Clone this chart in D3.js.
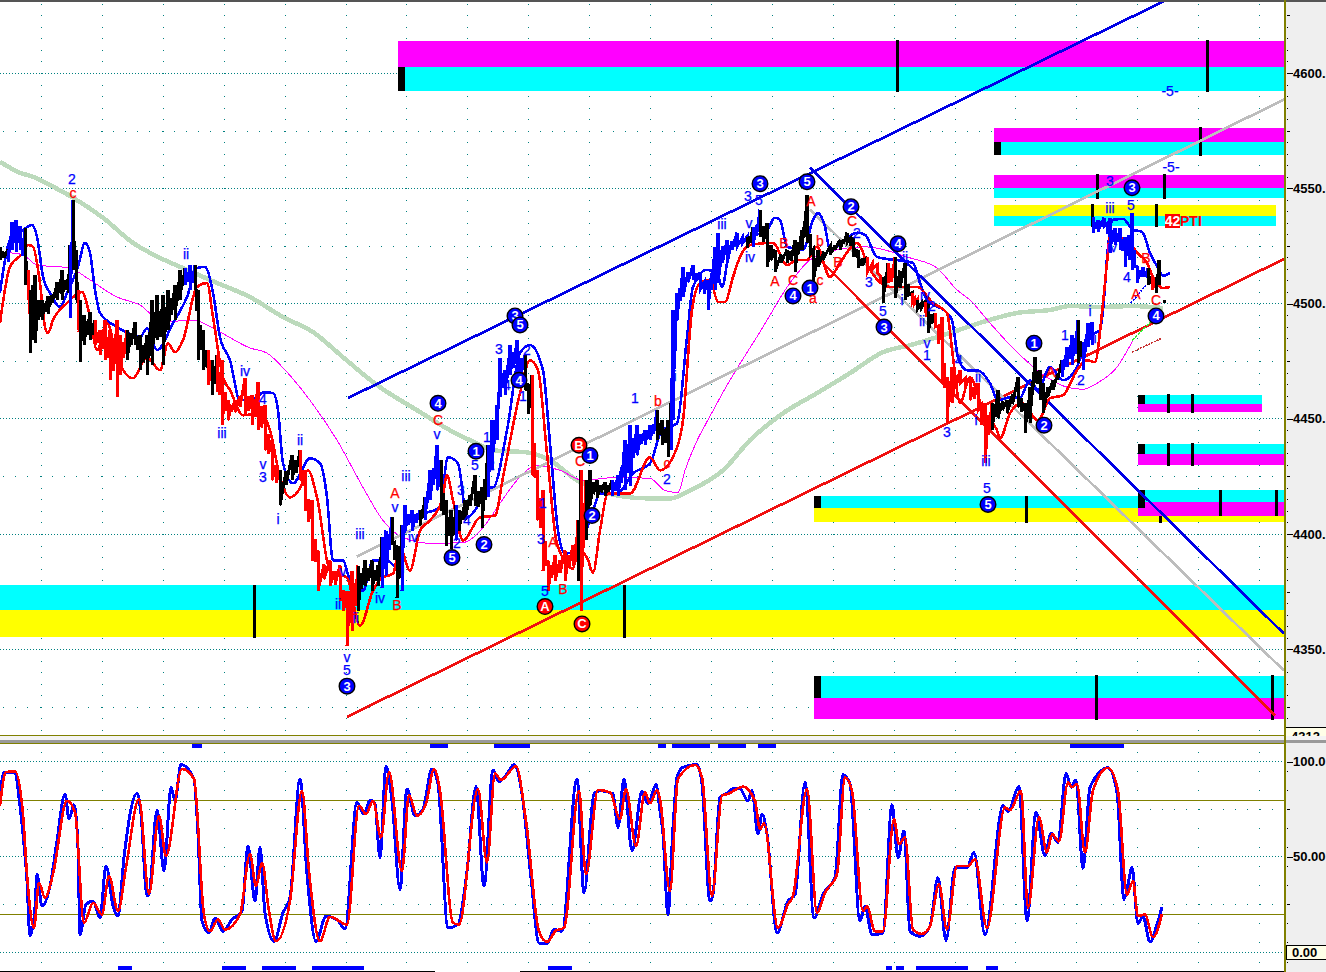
<!DOCTYPE html>
<html><head><meta charset="utf-8">
<script src="https://cdn.jsdelivr.net/npm/d3@7/dist/d3.min.js"></script>
<style>html,body{margin:0;padding:0;background:#fff;overflow:hidden}svg{display:block}text{font-family:"Liberation Sans",Arial,sans-serif}</style>
</head><body><svg id="c" width="1326" height="972"></svg>
<script>
// price bars: [time, high, low, colour code]
const priceBars=[[0,4524.6,4518.9,'k'],[8,4523.3,4518,'k'],[12,4535.4,4523.3,'b'],[16,4536.3,4522.4,'b'],[20,4533.7,4523.3,'b'],[25,4532.8,4508,'b'],[28,4514.6,4501.5,'k'],[30,4505.9,4478.5,'r'],[33,4508,4484.1,'k'],[35,4512.4,4482.8,'k'],[42,4501.5,4492.8,'k'],[48,4503.3,4495.4,'k'],[52,4503.7,4500.2,'k'],[57,4509.3,4501.5,'k'],[62,4514.6,4501.5,'k'],[67,4510.2,4505.9,'k'],[70,4525.4,4493.7,'k'],[73,4545,4514.6,'b'],[76,4523.3,4501.5,'k'],[78,4505.9,4488.5,'k'],[80,4501.5,4474.6,'r'],[84,4495,4482,'k'],[90,4496.3,4484.1,'k'],[95,4492.8,4482,'k'],[100,4488.5,4477.6,'r'],[105,4492.8,4475.4,'r'],[110,4488.5,4466.7,'r'],[117,4492.8,4459.3,'r'],[120,4486.3,4468.9,'r'],[127,4488.5,4475.4,'r'],[135,4492,4482,'k'],[140,4486.3,4471,'k'],[147,4486.3,4468.9,'k'],[152,4501.5,4473.3,'k'],[157,4503.7,4484.1,'k'],[163,4503.7,4473.3,'k'],[168,4505.9,4488.5,'k'],[175,4508,4492.8,'k'],[180,4514.6,4501.5,'k'],[185,4515.4,4508,'k'],[190,4516.7,4505.9,'b'],[195,4516.7,4506.7,'b'],[198,4505.9,4475.4,'k'],[203,4488.5,4471,'k'],[208,4479.8,4464.6,'k'],[212,4475.4,4460.2,'r'],[217,4477.6,4461.5,'k'],[222,4475.4,4447.2,'r'],[228,4458,4449.3,'r'],[235,4458,4452.8,'r'],[245,4467.6,4451.5,'r'],[252,4460.2,4447.2,'r'],[258,4465.9,4445,'r'],[265,4455.9,4436.3,'r'],[272,4440.7,4423.3,'r'],[280,4427.6,4412.4,'r'],[292,4434.1,4423.3,'k'],[300,4436.3,4423.3,'k'],[305,4427.6,4410.2,'r'],[312,4414.6,4388.5,'r'],[318,4392.8,4375.4,'r'],[330,4388.5,4377.6,'r'],[340,4386.3,4371.1,'r'],[347,4375.4,4351.5,'r'],[352,4384.1,4358,'r'],[358,4386.3,4366.7,'r'],[365,4388.5,4377.6,'k'],[372,4388.5,4375.4,'k'],[378,4386.3,4377.6,'k'],[382,4398.5,4376.7,'k'],[386,4401.5,4382,'b'],[392,4407.2,4395.9,'b'],[397,4395,4372.4,'k'],[402,4403.7,4375.4,'k'],[405,4412.4,4401.5,'b'],[412,4410.2,4401.5,'b'],[420,4410.2,4403.7,'b'],[425,4415.9,4405.9,'k'],[430,4427.6,4414.6,'b'],[437,4438.5,4418.9,'b'],[441,4432,4410.2,'b'],[446,4414.6,4395,'k'],[451,4410.2,4393.7,'k'],[456,4412.4,4397.2,'k'],[459,4410.2,4401.5,'b'],[465,4414.6,4405.9,'k'],[475,4425.4,4412.4,'k'],[482,4420.2,4402.8,'k'],[488,4438.5,4415.9,'k'],[492,4449.3,4427.6,'b'],[497,4455.9,4440.7,'b'],[500,4476.3,4459.3,'b'],[505,4471,4460.2,'b'],[510,4482,4468.9,'b'],[517,4484.1,4466.7,'b'],[525,4477.6,4462.4,'b'],[532,4468.9,4425.4,'k'],[537,4427.6,4405.9,'r'],[543,4418.9,4384.1,'r'],[548,4388.5,4375.4,'r'],[555,4390.7,4379.8,'r'],[565,4392.8,4379.8,'r'],[573,4395,4386.3,'r'],[578,4405.9,4379.8,'r'],[581,4427.6,4366.7,'k'],[586,4423.3,4397.2,'r'],[590,4427.6,4412.4,'k'],[597,4423.3,4415.9,'k'],[605,4422.4,4416.7,'k'],[612,4423.3,4416.7,'k'],[618,4425.4,4416.7,'b'],[625,4440.7,4418.9,'b'],[630,4447.2,4421,'b'],[637,4447.2,4434.1,'b'],[645,4445,4438.5,'b'],[650,4447.2,4440.7,'b'],[657,4453.7,4440.7,'b'],[662,4449.3,4438.5,'k'],[668,4449.3,4433.3,'k'],[671,4456.8,4436.3,'k'],[673,4497.2,4449.3,'b'],[677,4504.6,4492.8,'b'],[683,4515.9,4502.8,'b'],[693,4516.7,4510.2,'b'],[700,4513.3,4505.9,'b'],[708,4510.2,4497.2,'b'],[715,4524.6,4505.9,'b'],[718,4530.7,4508.9,'b'],[727,4527.6,4517.6,'b'],[737,4530.7,4524.6,'b'],[747,4528.9,4524.1,'b'],[753,4533.3,4524.6,'k'],[760,4540.7,4528.9,'b'],[767,4535,4515.9,'k'],[775,4523.3,4513.7,'k'],[787,4523.3,4517.6,'k'],[795,4527.6,4513.7,'k'],[802,4532,4523.3,'k'],[807,4547.2,4526.3,'k'],[813,4523.3,4505.9,'k'],[818,4523.3,4515.9,'k'],[830,4524.6,4521.1,'k'],[840,4527.6,4523.3,'k'],[847,4530.7,4526.3,'k'],[853,4528.9,4520.2,'k'],[858,4523.3,4515.4,'k'],[867,4520.2,4513.3,'k'],[877,4516.7,4513.3,'r'],[883,4511.5,4500.2,'r'],[888,4517.6,4508.9,'k'],[895,4520.2,4502.4,'r'],[905,4517.6,4501.5,'k'],[912,4504.6,4500.2,'k'],[917,4501.5,4497.2,'r'],[925,4500.7,4495.9,'k'],[928,4500.2,4487.2,'r'],[935,4495.9,4489.8,'k'],[942,4494.1,4465.4,'r'],[947,4468,4448,'r'],[952,4472.4,4456.8,'r'],[960,4471,4465.4,'r'],[970,4468,4458,'r'],[978,4465.4,4453.7,'r'],[985,4456.8,4430.7,'r'],[992,4456.8,4445,'r'],[998,4462.4,4450.2,'k'],[1007,4458,4452.4,'k'],[1018,4468,4455,'k'],[1025,4456.8,4443.7,'k'],[1030,4463.7,4448,'k'],[1035,4476.7,4465.4,'k'],[1040,4471,4458,'k'],[1043,4465.4,4452.4,'k'],[1053,4466.7,4462.4,'k'],[1062,4475.4,4468,'k'],[1067,4481.1,4472.4,'b'],[1072,4486.3,4473.3,'b'],[1078,4492.8,4474.1,'b'],[1083,4483.3,4471,'k'],[1088,4491.5,4481.1,'b'],[1092,4492,4482,'b'],[1093,4537.6,4530.7,'B'],[1098,4536.3,4531.1,'B'],[1104,4537.2,4533.3,'B'],[1110,4537.2,4522,'B'],[1115,4532.8,4525.4,'B'],[1120,4532.8,4523.3,'B'],[1125,4528.9,4515.9,'B'],[1129,4529.8,4518.9,'B'],[1132,4539.3,4514.6,'B'],[1137,4515.9,4508.9,'B'],[1143,4515.9,4511.5,'B'],[1148,4515.4,4508,'B'],[1152,4511.5,4505.9,'k'],[1156,4511.5,4504.6,'r'],[1159,4519,4508,'k']];

const emaSlowT=[0,20,33,53,73,103,133,160,187,217,250,283,313,343,377,417,450,477,493,527,550,577,617,650,670,690,723,750,783,817,850,883,910,950,983,1017,1050,1070,1100,1133,1163];
const emaSlow=[4561.5,4556.7,4555,4550.7,4545.9,4537.2,4526.3,4519.8,4514.6,4508.9,4502.8,4494.1,4487.6,4476.7,4464.6,4453.7,4445,4439.3,4436.3,4435.4,4432,4423.3,4416.7,4415.4,4415.4,4418.9,4427.6,4440.7,4452.4,4461.1,4469.8,4478.9,4481.9,4487.2,4492,4495.9,4497.2,4498.9,4498.5,4498.9,4498];

const maMidT=[10,23,37,70,87,117,140,163,193,220,250,267,287,310,337,363,383,403,433,463,483,500,517,537,560,583,617,650,665,678,685,717,763,790,810,837,863,910,937,957,970,990,1017,1047,1067,1083,1097,1117,1133];
const maMid=[4522,4521.1,4516.7,4515.4,4511.1,4502.8,4499.3,4492,4492.8,4487.6,4480.7,4478.5,4470.2,4458,4440.7,4420.2,4405.9,4398.5,4395.9,4396.3,4402.8,4413.3,4423.3,4429.8,4427.6,4423.3,4424.6,4424.1,4418.9,4418,4427.6,4456.7,4489.8,4508.9,4518.9,4523.3,4524.6,4519.8,4515.4,4505.9,4501.5,4491.5,4478.9,4468,4463.7,4462.8,4465.4,4472.4,4484.1];

const maBlueT=[0,10,20,32,37,43,50,60,67,78,85,90,95,100,117,128,140,147,157,173,187,197,205,213,220,230,240,257,263,273,278,283,293,310,320,327,333,343,350,363,373,387,397,407,423,440,448,458,467,477,487,493,507,520,530,543,550,558,565,577,593,600,617,633,650,662,677,687,693,707,717,722,730,750,767,775,780,787,803,813,818,825,830,857,865,877,913,920,927,947,952,958,967,977,990,998,1010,1020,1030,1038,1050,1063,1077,1087,1100,1103,1108,1113,1123,1133,1142,1150,1158,1163,1170];
const maBlue=[4504.6,4527.6,4530.7,4534.1,4528.9,4511.5,4504.6,4498.5,4504.6,4515.9,4526.3,4522,4505.9,4495.9,4489.8,4487.2,4485.4,4489.3,4479.8,4491.5,4502.8,4515.4,4515.9,4504.6,4485.4,4475.4,4458,4459.3,4461.5,4461.1,4453.7,4430.7,4422,4432.8,4430.7,4415.9,4388.5,4388.5,4379.8,4375.4,4388.5,4388.5,4385.4,4407.2,4408.9,4411.5,4433.3,4430.7,4407.2,4411.5,4420.2,4420.2,4445,4478.5,4482,4471,4439.3,4401.5,4391.5,4392.8,4410.2,4417.6,4417.6,4426.3,4430.7,4445,4448,4485.4,4507.2,4514.6,4513.3,4507.2,4523.3,4528.9,4532,4537.2,4536.3,4524.6,4523.3,4536.3,4539.3,4533.3,4523.3,4530.7,4529.8,4520.2,4517.6,4508.9,4501.5,4495.9,4492.8,4476.7,4471,4471,4465.4,4458,4459.3,4459.3,4466.7,4462.4,4472.4,4466.7,4472.4,4485.4,4488.5,4497.2,4524.6,4536.3,4536.7,4532,4531.1,4522,4515.4,4512,4513.3];

const maRedT=[0,10,23,28,33,40,45,48,53,67,82,90,97,107,117,133,147,160,168,175,183,197,207,213,223,230,243,260,270,280,290,300,308,317,330,347,360,373,382,393,400,410,420,430,442,447,453,463,480,495,503,520,530,538,547,557,573,578,587,593,600,608,630,650,660,677,683,692,700,710,718,725,733,740,750,773,787,797,807,817,830,840,857,870,890,917,933,947,953,960,970,983,997,1000,1010,1022,1038,1050,1063,1077,1087,1095,1102,1107,1110,1127,1137,1147,1153,1163,1170];
const maRed=[4491.5,4515.9,4522,4525.4,4524.6,4508.9,4489.8,4487.2,4492.8,4500.2,4505,4494.1,4479.8,4491.5,4476.7,4467.6,4476.7,4471,4482.8,4478.9,4484.1,4507.2,4508.9,4494.1,4468,4462.4,4451.5,4452.4,4445,4424.6,4415.9,4419.8,4427.6,4415.9,4384.1,4381,4360.2,4375.4,4381,4382.8,4394.1,4384.1,4401.5,4405.9,4414.6,4425.4,4414.6,4397.2,4407.2,4408,4424.6,4461.1,4475.4,4471,4435,4395.9,4385,4392.8,4389.8,4383.3,4401.5,4417.6,4417.6,4433.3,4427.6,4437.6,4449.3,4497.2,4508.9,4510.2,4500.7,4500.7,4511.5,4520.2,4525.4,4526.3,4516.7,4518.9,4518.9,4524.6,4511.5,4517.6,4526.3,4514.6,4507.2,4507.2,4500.2,4495.9,4476.7,4456.8,4468,4453.7,4445,4441.5,4452.4,4456.8,4449.3,4458.9,4460.2,4471,4475.4,4474.6,4495.9,4517.6,4528.9,4527.6,4522,4517.6,4511.5,4506.7,4507.2];

// trend channels: [t0, p0, t1, p1, colour, width]
const channels=[[348,4459,1168,4632,'#0000e6',2.7],[357,4390.2,1284,4588.5,'#bdbdbd',2.7],[347,4320.7,1284,4519.3,'#f01010',2.7],[810,4558.9,1284,4356.7,'#0000e6',2.7],[810,4540.7,1284,4340.7,'#bdbdbd',2.7],[822,4518,1275,4321.1,'#f01010',2.7]];
const fanLines=[[1131,4500.2,1146,4508,'#0000ff','2 1'],[1132,4484.1,1160,4495.9,'#33ee33','3 1'],[1132,4478.9,1162,4485,'#c83232','2 1']];

// zones: [t0, t1, top, bottom, colour]
const zones=[[0,1284,4378,4367.2,'#00ffff'],[0,1284,4367.2,4355.4,'#ffff00'],
[398,1284,4613.7,4602.8,'#ff00ff'],[398,1284,4602.8,4592.4,'#00ffff'],
[994,1284,4576.3,4570.2,'#ff00ff'],[994,1284,4570.2,4564.6,'#00ffff'],
[994,1284,4555.9,4550.2,'#ff00ff'],[994,1284,4550.2,4545.9,'#00ffff'],
[994,1276,4542.8,4538,'#ffff00'],[994,1276,4538,4533.7,'#00ffff'],
[814,1284,4338.5,4328.9,'#00ffff'],[814,1284,4328.9,4319.8,'#ff00ff'],
[814,1284,4416.3,4411.1,'#00ffff'],[814,1284,4411.1,4405,'#ffff00'],
[1138,1284,4418.9,4413.7,'#00ffff'],[1138,1284,4413.7,4408,'#ff00ff'],
[1138,1262,4460.2,4456.3,'#00ffff'],[1138,1262,4456.3,4452.8,'#ff00ff'],
[1138,1284,4438.9,4434.6,'#00ffff'],[1138,1284,4434.6,4429.8,'#ff00ff']];
const zoneBlocks=[[398,405,4602.8,4592.4],[994,1001,4570.2,4564.6],[814,821,4338.5,4328.9],[814,821,4416.3,4411.1],[1138,1145,4418.9,4411.1],[1138,1145,4460.2,4456.3],[1138,1145,4438.9,4434.6]];
const zoneTicks=[[897,4614.5,4591.9],[1207,4614.5,4591.9],[1200,4576.7,4563.9],[1097,4556.3,4545.4],[1164,4556.3,4545.4],[1092,4543.3,4533.3],[1156,4543.3,4533.3],[254,4378,4355],[624,4378,4355],[1096,4338.9,4319.3],[1272,4338.9,4319.3],[1026,4416.7,4404.6],[1160,4408,4404.6],[1168,4460.7,4452.4],[1192,4460.7,4452.4],[1168,4439.3,4429.3],[1192,4439.3,4429.3],[1220,4418.9,4407.6],[1276,4418.9,4407.6]];

// wave labels: [t, price, text, colour, circled]
const waveLabels=[[72,4554.1,'2','b'],[73,4548,'c','r'],[186,4521.5,'ii','b'],[245,4470.7,'iv','b'],[222,4443.7,'iii','b'],[263,4458.5,'4','b'],[300,4440.7,'ii','b'],[263,4430.2,'v','b'],[263,4424.6,'3','b'],[278,4406.3,'i','b'],[347,4346.7,'v','b'],[347,4341,'5','b'],[347,4334,'3','b',1],[360,4399.8,'iii','b'],[343,4384.1,'v','b'],[338,4369.8,'ii','b'],[356,4363.7,'ii','b'],[380,4372.4,'iv','b'],[395,4417.6,'A','r'],[395,4411.5,'v','b'],[406,4425,'iii','b'],[403,4385.4,'i','b'],[397,4369.3,'B','r'],[413,4398.5,'iv','b'],[438,4456.7,'4','b',1],[438,4449.3,'C','r'],[437,4443.3,'v','b'],[461,4418.9,'3','b'],[457,4396.3,'2','b'],[467,4405.9,'4','b'],[452,4389.8,'5','b',1],[475,4429.8,'5','b'],[476,4435.9,'1','b',1],[484,4395.4,'2','b',1],[487,4442,'1','b'],[491,4429.8,'2','b'],[499,4480.2,'3','b'],[507,4464.6,'4','b'],[523,4459.8,'1','b'],[515,4494.6,'3','b',1],[520,4490.7,'5','b',1],[519,4466.7,'4','b',1],[527,4479.8,'2','b'],[543,4413.3,'1','b'],[541,4398,'3','b'],[553,4396.7,'A','r'],[545,4375.4,'5','b'],[545,4368.5,'A','r',1],[563,4376.3,'B','r'],[580,4431.5,'C','r'],[579,4438.5,'B','r',1],[590,4434.1,'1','b',1],[592,4408,'2','b',1],[582,4361,'C','r',1],[635,4458.9,'1','b'],[658,4457.6,'b','r'],[675,4468.5,'i','b'],[667,4430.6,'c','r'],[667,4424,'2','b'],[722,4534.6,'iii','b'],[749,4535,'v','b'],[750,4520.2,'iv','b'],[748,4546.7,'3','b'],[760,4552,'3','b',1],[759,4545,'5','b'],[807,4552.8,'5','b',1],[811,4544.6,'A','r'],[784,4526.3,'B','r'],[775,4509.8,'A','r'],[793,4510.2,'C','r'],[793,4503.3,'4','b',1],[810,4506.7,'1','b',1],[813,4502.6,'a','r'],[820,4510.2,'c','r'],[820,4527.2,'b','r'],[852,4535.6,'C','r'],[851,4542,'2','b',1],[857,4530.4,'2','b'],[838,4518,'B','r'],[869,4509.3,'3','b'],[883,4496.7,'5','b'],[884,4489.8,'3','b',1],[898,4525.9,'4','b',1],[905,4520.2,'ii','b'],[902,4501.5,'i','b'],[925,4503.7,'iv','b'],[932,4498.9,'2','b'],[922,4492.4,'ii','b'],[927,4482.8,'v','b'],[927,4477.6,'1','b'],[947,4444.1,'3','b'],[976,4449.3,'i','b'],[978,4468,'ii','b'],[986,4431.5,'iii','b'],[959,4475.4,'4','b'],[987,4419.8,'5','b'],[988,4412.8,'5','b',1],[1034,4482.8,'1','b',1],[1044,4447.2,'2','b',1],[1051,4470.2,'A','r'],[1065,4486.3,'1','b'],[1081,4466.7,'2','b'],[1090,4496.7,'i','b'],[1092,4485,'iii','b'],[1110,4553.3,'3','b'],[1132,4550.2,'3','b',1],[1110,4541.5,'iii','b'],[1131,4542.8,'5','b'],[1112,4524.6,'iv','b'],[1127,4511.5,'4','b'],[1136,4504.1,'A','r'],[1146,4519.8,'B','r'],[1156,4501.5,'C','r'],[1156,4494.6,'4','b',1],[1170,4592.4,'-5-','b'],[1171,4559.3,'-5-','b']];

// stochastic
const stochBlueT=[0,4,15,19,23,27,30,35,37,42,51,57,65,69,74,78,80,86,93,100,106,113,118,124,137,141,147,149,157,164,171,175,181,194,198,202,209,215,223,232,242,248,255,260,265,274,283,290,300,307,316,326,337,345,357,364,370,375,380,386,392,400,407,415,423,432,438,448,458,467,476,484,493,499,507,514,522,531,539,547,554,562,577,584,594,600,613,618,624,632,642,648,656,660,663,668,673,677,683,697,702,710,713,720,728,732,740,748,752,758,762,767,777,788,795,805,814,823,835,843,850,860,865,872,883,892,898,904,910,920,930,938,946,955,967,974,985,1003,1008,1019,1027,1036,1045,1051,1058,1066,1071,1076,1083,1090,1108,1117,1124,1128,1132,1138,1143,1150,1157,1162];
const stochBlue=[81.2,94.4,94.4,81.2,61.9,37.3,8.3,23.2,40.8,24.1,37.3,58.3,83,69.8,77.3,54.8,9.1,25,26.7,17.9,45.2,24.1,18.8,49.6,83.3,72.4,29.3,30.2,74.5,42.5,86.5,79.4,98.4,90.9,61.9,16.2,10,17.9,10.9,17,21.4,55.7,26.7,54.8,20.6,5.6,20.6,28.5,90.9,40.8,5.6,18.8,17,12.1,78.6,72.4,79.8,77.7,49.6,97.4,79.4,32.9,85.6,71.5,75,96.1,88.2,12.7,14.4,42.5,86.8,34.6,95.6,89.5,93.5,98.4,83,39,4.7,4.2,11.8,10.9,90.9,31.1,83,84.7,83,65.4,90.9,53.1,84.4,77.7,87.9,74.2,61.9,19.7,65.4,91.7,97,98.4,88.2,26.7,30.2,81.2,83.8,85.6,85.6,79.4,84.7,61.9,72.4,61.9,10,26.7,30.2,89.1,17.9,30.2,39,93.1,88.2,16.2,24.1,9.1,10,77.3,49.6,63.6,10.9,8.3,13.5,39,6,44.3,44.3,52.2,9.1,76.8,73.8,86.8,16.5,73.3,50.4,62.4,57.5,93.8,86.5,90.3,43.9,86.5,96.7,83.8,27.6,35.5,44.3,14.8,18.8,5.3,14.4,23.6];
const stochRedT=[0,6,15,23,27,34,39,45,53,67,75,84,93,102,109,118,126,139,149,159,166,182,194,204,210,218,225,240,250,256,262,269,276,290,302,309,320,330,347,359,366,373,381,389,402,409,417,426,434,440,453,459,478,487,495,501,516,526,539,547,556,564,579,586,598,610,620,626,636,645,650,657,660,670,678,695,702,712,722,728,743,755,760,764,778,788,793,807,817,825,837,845,852,863,867,875,883,894,899,905,913,922,930,939,947,957,968,975,987,1005,1010,1021,1028,1039,1047,1052,1059,1068,1072,1077,1085,1093,1108,1118,1127,1133,1138,1145,1153,1162];
const stochRed=[76.8,94.4,94.9,72.4,40.8,12.7,36.4,28.5,40.8,79.4,73.3,15.3,25.8,19.7,39.9,21.4,44.3,80.3,30.6,71.5,50.4,96.1,90.9,19.7,10.9,17,11.8,19.7,51.3,34.6,46.9,21.4,5.6,26.7,84.7,42.5,5.6,18.5,14.4,76.8,72.4,79.4,60.1,94.4,42.5,82.4,71.5,77.7,96.1,84.7,15.3,14.4,85.6,46.9,93.8,90.3,97.5,68.9,10.9,5.3,11.2,12.7,84.7,40.8,85.1,83.8,69.8,85.6,55.7,83.8,78,85.1,80.3,32,90.9,98.2,91.7,29.3,82.1,83,86.8,79.4,64.5,67.5,12.7,25,29.3,85.6,20.6,31.1,40.8,91.7,84.7,21.4,24.1,10.9,10.9,69.8,56.6,60.1,11.8,9.5,13.5,35.5,11.8,45.2,45.2,48.7,12.7,75.9,74.5,84.7,23.2,70.7,52.2,61.9,58,89.1,86.5,88.2,52.2,84.7,96.7,84.7,30.2,37.3,18.8,19.7,7.7,20];
const stochTopRuns=[[192,202],[430,448],[494,530],[658,666],[672,710],[718,746],[758,776],[1070,1124]];
const stochBottomRuns=[[118,132],[222,246],[262,296],[312,364],[548,572],[886,892],[896,904],[916,968],[986,998]];

const priceMajor=[4350,4400,4450,4500,4550,4600];
const stochMajor=[100,50];
const gridColumns=d3.range(0,21).map(i=>41+60.9*i);

const W=1326,H=972,PR=1284;
const svg=d3.select('#c');
const x=d3.scaleLinear().domain([0,1284]).range([0,PR]);
const y=d3.scaleLinear().domain([4500,4600]).range([303.5,73]);
const ys=d3.scaleLinear().domain([0,100]).range([952,761.5]);
const cols={k:'#000',b:'#0000ff',B:'#0000ff',r:'#ff0000'};
const TEAL='#008080',OLIVE='#808000';

svg.append('rect').attr('x',1286).attr('y',0).attr('width',40).attr('height',H).attr('fill','#efefef');
const defs=svg.append('defs');
defs.append('clipPath').attr('id','pc').append('rect').attr('width',PR).attr('height',735);
defs.append('clipPath').attr('id','sc').append('rect').attr('y',744).attr('width',PR).attr('height',227);

const P=svg.append('g').attr('clip-path','url(#pc)');
const S=svg.append('g').attr('clip-path','url(#sc)');

function dots(g,yScale,from,to,step,mid){
  gridColumns.forEach(c=>{
    d3.range(from,to+0.01,step).forEach(v=>g.append('rect').attr('x',x(c)).attr('y',yScale(v)).attr('width',1).attr('height',1).attr('fill',TEAL));
  });
  mid.forEach(v=>{
    d3.range(3,PR,12.2).forEach(t=>g.append('rect').attr('x',x(t)).attr('y',yScale(v)).attr('width',1).attr('height',1).attr('fill',TEAL));
  });
}
dots(P,y,4310,4630,5,[4325,4375,4425,4475,4525,4575]);
dots(S,ys,-5,115,10,[25,75]);
priceMajor.forEach(v=>P.append('line').attr('x1',0).attr('x2',PR).attr('y1',Math.floor(y(v))+.5).attr('y2',Math.floor(y(v))+.5).attr('stroke',TEAL).attr('stroke-width',1).attr('stroke-dasharray','1 2'));
[100,50,0].forEach(v=>S.append('line').attr('x1',0).attr('x2',PR).attr('y1',Math.floor(ys(v))+.5).attr('y2',Math.floor(ys(v))+.5).attr('stroke',TEAL).attr('stroke-dasharray','1 2'));
[80,20].forEach(v=>S.append('rect').attr('x',0).attr('width',PR).attr('y',Math.round(ys(v))).attr('height',1).attr('fill',OLIVE));

P.selectAll('.z').data(zones).join('rect').attr('x',d=>x(d[0])).attr('width',d=>x(d[1])-x(d[0])).attr('y',d=>y(d[2])).attr('height',d=>y(d[3])-y(d[2])).attr('fill',d=>d[4]);
P.selectAll('.zb').data(zoneBlocks).join('rect').attr('x',d=>x(d[0])).attr('width',d=>x(d[1])-x(d[0])).attr('y',d=>y(d[2])).attr('height',d=>y(d[3])-y(d[2])).attr('fill','#000');
P.selectAll('.zt').data(zoneTicks).join('rect').attr('x',d=>x(d[0])-1).attr('width',3).attr('y',d=>y(d[1])).attr('height',d=>y(d[2])-y(d[1])).attr('fill','#000');

const L=(ts,vs,yS)=>d3.line().x((d,i)=>x(ts[i])).y(d=>yS(d)).curve(d3.curveMonotoneX)(vs);
P.append('path').attr('d',L(emaSlowT,emaSlow,y)).attr('fill','none').attr('stroke','#bcdabc').attr('stroke-width',4.5);
P.append('path').attr('d',L(maMidT,maMid,y)).attr('fill','none').attr('stroke','#ff00ff').attr('stroke-width',1);

channels.forEach(c=>P.append('line').attr('x1',x(c[0])).attr('y1',y(c[1])).attr('x2',x(c[2])).attr('y2',y(c[3])).attr('stroke',c[4]).attr('stroke-width',c[5]));
P.append('path').attr('d',L(maBlueT,maBlue,y)).attr('fill','none').attr('stroke','#0000ff').attr('stroke-width',2.6);
P.append('path').attr('d',L(maRedT,maRed,y)).attr('fill','none').attr('stroke','#ff0000').attr('stroke-width',2.6);

// price: zigzag high/low per run of the same colour
const runs=[];
priceBars.forEach((b,i)=>{
  const last=runs[runs.length-1];
  if(last&&last.c===b[3]) last.bars.push(b);
  else runs.push({c:b[3],bars:(i&&b[3]!=='B')?[priceBars[i-1],b]:[b]});
});
runs.forEach(r=>{
  let d='';
  r.bars.forEach((b,i)=>{
    const t=x(b[0]);
    d+=(i?'L':'M')+t+','+y(b[1])+'L'+t+','+y(b[2]);
    const n=r.bars[i+1];
    if(n){
      const m=x((b[0]+n[0])/2),hi=(b[1]+n[1])/2,lo=(b[2]+n[2])/2,c=(hi+lo)/2;
      d+='L'+m+','+y(c+(hi-c)*0.45)+'L'+m+','+y(c-(hi-c)*0.45);
    }
  });
  P.append('path').attr('d',d).attr('fill','none').attr('stroke',cols[r.c]).attr('stroke-width',3);
});
fanLines.forEach(c=>P.append('line').attr('x1',x(c[0])).attr('y1',y(c[1])).attr('x2',x(c[2])).attr('y2',y(c[3])).attr('stroke',c[4]).attr('stroke-width',1.5).attr('stroke-dasharray',c[5]));
P.append('rect').attr('x',x(1163)).attr('y',y(4501.5)).attr('width',3).attr('height',3).attr('fill','#000');

// labels
waveLabels.forEach(d=>{
  const tx=x(d[0]),ty=y(d[1]);
  if(d[4]){
    P.append('circle').attr('cx',tx).attr('cy',ty).attr('r',7.8).attr('fill',cols[d[3]]).attr('stroke','#000').attr('stroke-width',1.4);
    P.append('text').attr('x',tx).attr('y',ty+4.5).attr('text-anchor','middle').attr('fill','#fff').attr('font-size',13).attr('font-weight',700).text(d[2]);
  } else {
    P.append('text').attr('x',tx).attr('y',ty+5).attr('text-anchor','middle').attr('fill',cols[d[3]]).attr('font-size',14).attr('stroke',cols[d[3]]).attr('stroke-width',0.25).text(d[2]);
  }
});
const ptiP=4535.9;
P.append('rect').attr('x',x(1165)).attr('y',y(ptiP)-7).attr('width',15).attr('height',14).attr('fill','#ff0000');
P.append('text').attr('x',x(1172.5)).attr('y',y(ptiP)+5).attr('text-anchor','middle').attr('fill','#fff').attr('font-size',14).attr('font-weight',700).text('42');
P.append('text').attr('x',x(1180)).attr('y',y(ptiP)+5).attr('fill','#ff0000').attr('font-size',14).attr('font-weight',700).text('PTI');

// stochastic panel
S.append('path').attr('d',d3.line().x((d,i)=>x(stochBlueT[i])).y(d=>ys(d)).curve(d3.curveMonotoneX)(stochBlue)).attr('fill','none').attr('stroke','#0000ff').attr('stroke-width',3);
S.append('path').attr('d',d3.line().x((d,i)=>x(stochRedT[i])).y(d=>ys(d)).curve(d3.curveMonotoneX)(stochRed)).attr('fill','none').attr('stroke','#ff0000').attr('stroke-width',2.6);
stochTopRuns.forEach(r=>S.append('rect').attr('x',x(r[0])).attr('width',x(r[1])-x(r[0])).attr('y',744).attr('height',4).attr('fill','#0000ff'));
stochBottomRuns.forEach(r=>S.append('rect').attr('x',x(r[0])).attr('width',x(r[1])-x(r[0])).attr('y',966).attr('height',4).attr('fill','#0000ff'));

// frame
svg.append('rect').attr('width',W).attr('height',1.5).attr('fill','#555');
svg.append('rect').attr('y',735).attr('width',PR).attr('height',1).attr('fill',OLIVE);
svg.append('rect').attr('y',736).attr('width',W).attr('height',4).attr('fill','#f4f4f4');
svg.append('rect').attr('y',740).attr('width',W).attr('height',3).attr('fill','#9a9a9a');
svg.append('rect').attr('y',743).attr('width',PR).attr('height',1).attr('fill',OLIVE);
svg.append('rect').attr('x',1284).attr('y',0).attr('width',2).attr('height',H).attr('fill',OLIVE);
svg.append('rect').attr('x',0).attr('y',971).attr('width',435).attr('height',1).attr('fill','#000');
svg.append('rect').attr('x',520).attr('y',971).attr('width',764).attr('height',1).attr('fill','#000');

// axes
const AX=1287;
const minor=svg.append('g').attr('transform',`translate(${AX},0)`).call(d3.axisRight(y).tickValues(d3.range(4315,4630,5).filter(v=>v%25&&y(v)<726)).tickSize(1).tickFormat(''));
const mid=svg.append('g').attr('transform',`translate(${AX},0)`).call(d3.axisRight(y).tickValues(d3.range(4325,4630,25).filter(v=>v%50)).tickSize(3).tickFormat(''));
const major=svg.append('g').attr('transform',`translate(${AX},0)`).call(d3.axisRight(y).tickValues(priceMajor).tickSize(6).tickPadding(0).tickFormat(d=>d+'.'));
const minorS=svg.append('g').attr('transform',`translate(${AX},0)`).call(d3.axisRight(ys).tickValues(d3.range(-5,105,10)).tickSize(1).tickFormat(''));
const midS=svg.append('g').attr('transform',`translate(${AX},0)`).call(d3.axisRight(ys).tickValues([25,75]).tickSize(3).tickFormat(''));
const majorS=svg.append('g').attr('transform',`translate(${AX},0)`).call(d3.axisRight(ys).tickValues(stochMajor).tickSize(6).tickPadding(0).tickFormat(d=>d===100?'100.0':'50.00'));
[minor,mid,major,minorS,midS,majorS].forEach(g=>{g.select('.domain').remove();g.selectAll('text').attr('font-family','"Liberation Sans"').attr('font-size',13).attr('font-weight',700).attr('fill','#000');g.selectAll('line').attr('stroke','#000');});

function box(yTop,h,txt){
  svg.append('rect').attr('x',1286.5).attr('y',yTop).attr('width',42).attr('height',h).attr('fill','#ffffe8').attr('stroke','#000');
  svg.append('text').attr('x',1292).attr('y',yTop+h-2.5).attr('font-size',13).attr('font-weight',700).attr('fill','#000').text(txt);
}
svg.append('rect').attr('x',1286).attr('y',727).attr('width',40).attr('height',9).attr('fill','#ffffe8');
svg.append('clipPath').attr('id','lb').append('rect').attr('x',1286).attr('y',727).attr('width',40).attr('height',9);
svg.append('text').attr('clip-path','url(#lb)').attr('x',1291).attr('y',741).attr('font-size',13).attr('font-weight',700).text('4312');
svg.append('rect').attr('x',1286).attr('y',727).attr('width',40).attr('height',1).attr('fill','#000');
box(945,14,'0.00');
svg.selectAll('line,path,rect').attr('shape-rendering','crispEdges');
svg.selectAll('circle').attr('shape-rendering','auto');
</script></body></html>
